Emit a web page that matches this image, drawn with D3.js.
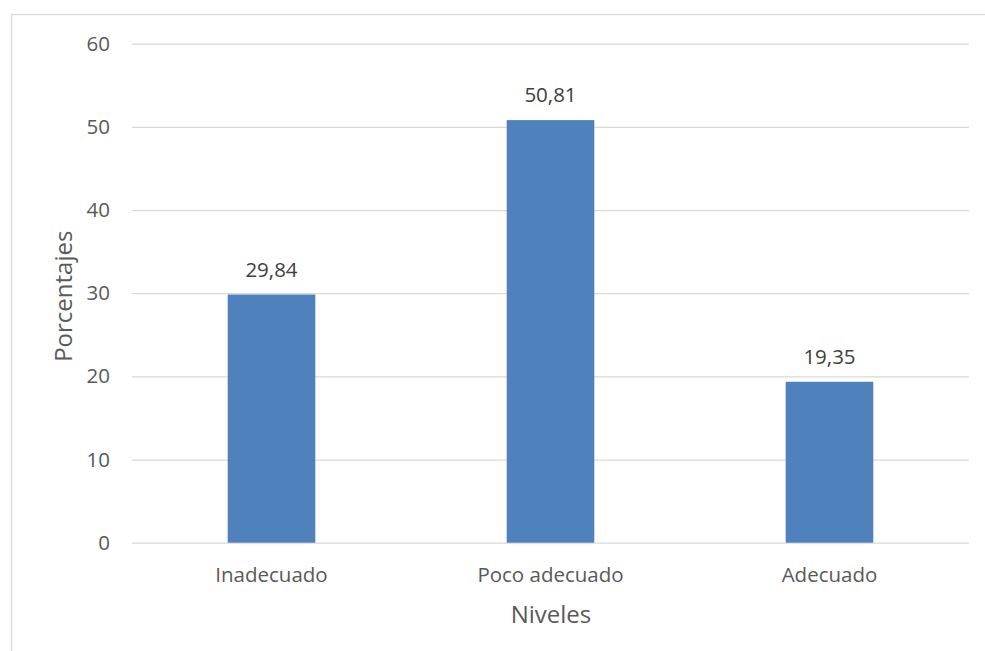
<!DOCTYPE html>
<html>
<head>
<meta charset="utf-8">
<script src="https://cdn.jsdelivr.net/npm/d3@7"></script>
<style>
  body { margin: 0; background: #fff; }
  text { font-family: "Open Sans", "Noto Sans", sans-serif; }
</style>
</head>
<body>
<script>
// data
var niveles = ["Inadecuado", "Poco adecuado", "Adecuado"];
var porcentajes = [29.84, 50.81, 19.35];
var yTicks = [0, 10, 20, 30, 40, 50, 60];

var svgWidth = 985;
var svgHeight = 651;
var margin = { top: 43.7, right: 16, bottom: 108.3, left: 132 };
var width = svgWidth - margin.left - margin.right;
var height = svgHeight - margin.top - margin.bottom;

var svg = d3.select("body")
  .append("svg")
  .attr("width", svgWidth)
  .attr("height", svgHeight);

// chart frame (only left and top edges are inside the picture)
svg.append("rect")
  .attr("x", 11.5)
  .attr("y", 14.5)
  .attr("width", 1000)
  .attr("height", 700)
  .attr("fill", "none")
  .attr("stroke", "#d9d9d9")
  .attr("stroke-width", 1.3);

var chartGroup = svg.append("g")
  .attr("transform", `translate(${margin.left}, ${margin.top})`);

var xBandScale = d3.scaleBand()
  .domain(niveles)
  .range([0, width])
  .paddingInner(0.686)
  .paddingOuter(0.343);

var yLinearScale = d3.scaleLinear()
  .domain([0, 60])
  .range([height, 0]);

// gridlines + y labels
var leftAxis = d3.axisLeft(yLinearScale)
  .tickValues(yTicks)
  .tickSize(-width)
  .tickPadding(22)
  .tickFormat(d3.format("d"));

var yAxis = chartGroup.append("g").call(leftAxis);
yAxis.select(".domain").remove();
yAxis.selectAll("line")
  .attr("stroke", "#d9d9d9")
  .attr("stroke-width", 1.3);
yAxis.selectAll("text")
  .attr("fill", "#595959")
  .attr("font-size", "20.5px");

// bars
chartGroup.selectAll(".bar")
  .data(porcentajes)
  .enter()
  .append("rect")
  .attr("class", "bar")
  .attr("x", (d, i) => xBandScale(niveles[i]))
  .attr("y", d => yLinearScale(d))
  .attr("width", xBandScale.bandwidth())
  .attr("height", d => height - yLinearScale(d))
  .attr("fill", "#4f81bd");

// value labels
chartGroup.selectAll(".valueText")
  .data(porcentajes)
  .enter()
  .append("text")
  .attr("class", "valueText")
  .attr("x", (d, i) => xBandScale(niveles[i]) + xBandScale.bandwidth() / 2)
  .attr("y", d => yLinearScale(d) - 18)
  .attr("text-anchor", "middle")
  .attr("font-size", "20.5px")
  .attr("fill", "#404040")
  .text(d => d3.format(".2f")(d).replace(".", ","));

// category labels
var bottomAxis = d3.axisBottom(xBandScale).tickSize(0).tickPadding(0);
var xAxis = chartGroup.append("g")
  .attr("transform", `translate(0, ${height})`)
  .call(bottomAxis);
xAxis.select(".domain").remove();
xAxis.selectAll("text")
  .attr("dy", null)
  .attr("y", 39.5)
  .attr("fill", "#595959")
  .attr("font-size", "20.5px");

// axis titles
chartGroup.append("text")
  .attr("transform", "rotate(-90)")
  .attr("x", 0 - (height / 2) - 3)
  .attr("y", 71.7 - margin.left)
  .attr("text-anchor", "middle")
  .attr("font-size", "24px")
  .attr("fill", "#595959")
  .text("Porcentajes");

chartGroup.append("text")
  .attr("x", width / 2 + 0.5)
  .attr("y", height + 80.6)
  .attr("text-anchor", "middle")
  .attr("font-size", "24px")
  .attr("fill", "#595959")
  .text("Niveles");
</script>
</body>
</html>
